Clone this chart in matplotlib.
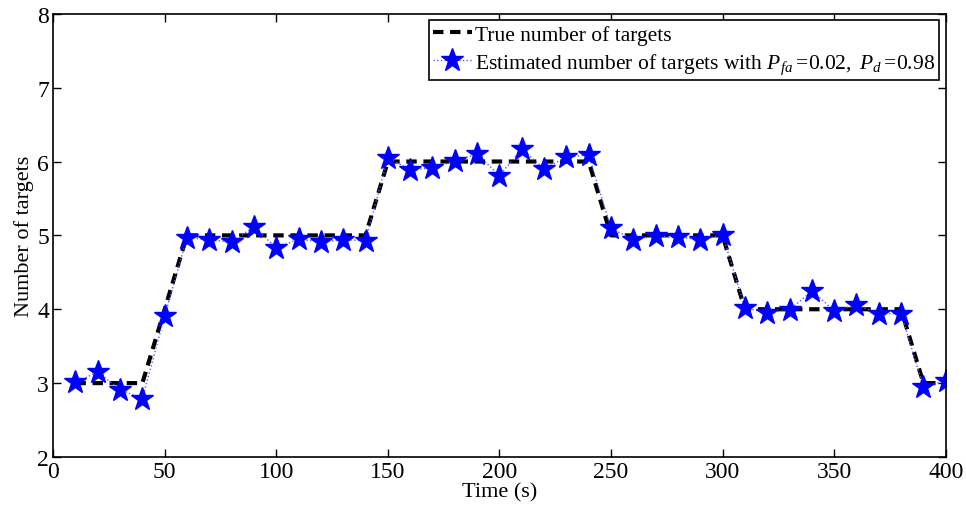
import numpy as np
import matplotlib
matplotlib.use("Agg")
import matplotlib.pyplot as plt

plt.rcParams['font.family'] = 'Liberation Serif'
plt.rcParams['mathtext.fontset'] = 'custom'
plt.rcParams['mathtext.rm'] = 'Liberation Serif'
plt.rcParams['mathtext.it'] = 'Liberation Serif:italic'

# time steps (s)
time = [10, 20, 30, 40, 50, 60, 70, 80, 90, 100, 110, 120, 130, 140, 150, 160, 170, 180, 190, 200,
        210, 220, 230, 240, 250, 260, 270, 280, 290, 300, 310, 320, 330, 340, 350, 360, 370, 380, 390, 400]

# ground truth target count
true_count = [3, 3, 3, 3, 4, 5, 5, 5, 5, 5, 5, 5, 5, 5, 6, 6, 6, 6, 6, 6,
              6, 6, 6, 6, 5, 5, 5, 5, 5, 5, 4, 4, 4, 4, 4, 4, 4, 4, 3, 3]

# estimated target count (Pfa=0.02, Pd=0.98)
est_count = [3.01, 3.15, 2.91, 2.79, 3.91, 4.97, 4.94, 4.91, 5.12, 4.83, 4.95, 4.91, 4.94, 4.93,
             6.05, 5.89, 5.91, 6.01, 6.10, 5.81, 6.17, 5.90, 6.06, 6.09,
             5.10, 4.94, 4.99, 4.98, 4.94, 5.01,
             4.02, 3.95, 3.99, 4.25, 3.98, 4.06, 3.94, 3.94, 2.95, 3.03]

fig = plt.figure(figsize=(9.66, 5.10), dpi=100)
ax = fig.add_axes([0.055, 0.102, 0.924, 0.869])

ax.plot(time, true_count, color='black', linestyle=(0, (2.5, 1.6)), linewidth=3,
        label='True number of targets')
ax.plot(time, est_count, color='#5a5aff', linestyle=':', linewidth=1, marker='*',
        markersize=17, markerfacecolor='blue', markeredgecolor='blue',
        label=r'Estimated number of targets with '
              r'$P_{fa}\mathit{=}\!\mathit{0.02,}\ P_{d}\mathit{=}\!\mathit{0.98}$')

ax.set_xlim(0, 400)
ax.set_ylim(2, 8)
ax.set_xticks(np.arange(0, 401, 50))
ax.set_yticks(np.arange(2, 9, 1))
ax.tick_params(direction='in', top=True, right=True, labelsize=17, length=6, width=1, pad=3)
for s in ax.spines.values():
    s.set_linewidth(1.2)

ax.set_xlabel('Time (s)', fontsize=16, labelpad=0)
ax.set_ylabel('Number of targets', fontsize=16, labelpad=2)

leg = ax.legend(loc='upper right', fontsize=15.5, fancybox=False, framealpha=1,
                edgecolor='black', borderpad=0.2, handlelength=1.8, handletextpad=0.15,
                labelspacing=0.3, borderaxespad=0.3)
leg.get_frame().set_linewidth(1.2)

fig.savefig('out.png', dpi=100)
